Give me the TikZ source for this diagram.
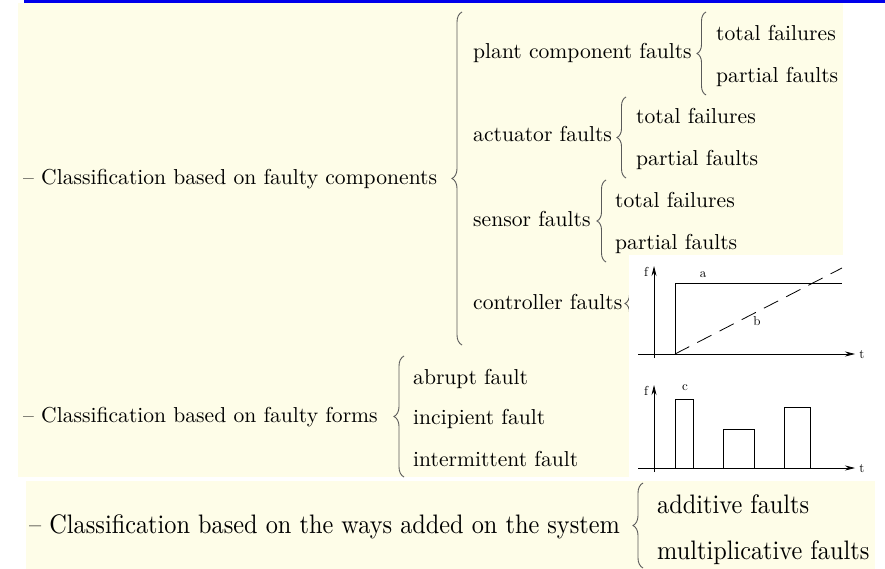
\documentclass[tikz,border=0pt]{standalone}
\usepackage{fontspec}
\setmainfont{lmroman10-regular.otf}
\usetikzlibrary{decorations.pathreplacing,arrows.meta}
\definecolor{panel}{RGB}{254,253,232}
\definecolor{topblue}{RGB}{0,0,235}
\definecolor{bracegray}{RGB}{90,90,90}
\begin{document}
\begin{tikzpicture}[x=1pt,y=-1pt,
  txt/.style={anchor=base west,inner sep=0pt,font=\fontsize{21.6}{24}\selectfont},
  txtb/.style={anchor=base west,inner sep=0pt,font=\fontsize{24.3}{27}\selectfont},
  brc/.style={draw=bracegray,line width=0.9pt,decorate,decoration={brace,amplitude=9pt}},
  plotline/.style={line width=0.8pt,draw=black},
  axis/.style={line width=0.8pt,draw=black,-{Stealth[length=10pt,width=5pt]}},
  plab/.style={inner sep=0pt,font=\fontsize{13}{14}\selectfont}
]
\useasboundingbox (0,0) rectangle (885,569);
\fill[white] (0,0) rectangle (885,569);
\fill[panel] (18,3) rectangle (843,477);
\fill[panel] (26,481) rectangle (875,569);
\draw[topblue,line width=3pt] (24,1.5) -- (885,1.5);

% faulty components
\node[txt] (comp) at (23,185) {-- Classification based on faulty components};
\draw[brc,decoration={amplitude=10pt}] (462,345) -- (462,12);
\node[txt] (plant) at (473,59) {plant component faults};
\draw[brc] (706,95) -- (706,12);
\node[txt] (tf1) at (716,41) {total failures};
\node[txt] (pf1) at (716,83) {partial faults};
\node[txt] (act) at (473,142) {actuator faults};
\draw[brc] (626,178) -- (626,97);
\node[txt] (tf2) at (636,124) {total failures};
\node[txt] (pf2) at (636,166) {partial faults};
\node[txt] (sen) at (473,226) {sensor faults};
\draw[brc] (606,262) -- (606,180);
\node[txt] (tf3) at (615,208) {total failures};
\node[txt] (pf3) at (615,249) {partial faults};
\node[txt] (ctrl) at (473,309) {controller faults};
\draw[brc] (634,343) -- (634,264);

% faulty forms
\node[txt] (forms) at (23,422) {-- Classification based on faulty forms};
\draw[brc,decoration={amplitude=10pt}] (404,477) -- (404,356);
\node[txt] (abrupt) at (413,384) {abrupt fault};
\node[txt] (incip) at (413,424) {incipient fault};
\node[txt] (interm) at (413,466) {intermittent fault};

% plots (image)
\fill[white] (629,255) rectangle (885,479);
\draw[axis] (638,354) -- (855,354);
\draw[axis] (654,358) -- (654,266);
\node[plab] (f1) at (646,272) {f};
\node[plab] (t1) at (862,355) {t};
\draw[plotline] (638,354) -- (675,354) -- (675,283) -- (842,283);
\node[plab] (la) at (703,275) {a};
\draw[plotline,dash pattern=on 16pt off 9pt] (675,354) -- (842,268);
\node[plab] (lb) at (757,321) {b};

\draw[axis] (638,468) -- (855,468);
\draw[axis] (654,472) -- (654,385);
\node[plab] (f2) at (646,391) {f};
\node[plab] (t2) at (862,469) {t};
\node[plab] (lc) at (685,388) {c};
\draw[plotline] (638,468) -- (675,468) -- (675,399) -- (693,399) -- (693,468);
\draw[plotline] (723,468) -- (723,429) -- (754,429) -- (754,468);
\draw[plotline] (784,468) -- (784,407) -- (810,407) -- (810,468);

% ways added
\node[txtb] (ways) at (29,533) {\scalebox{1}[1.1]{-- Classification based on the ways added on the system}};
\draw[brc,decoration={amplitude=10pt}] (643,568) -- (643,483);
\node[txtb] (add) at (657,513) {\scalebox{1}[1.1]{additive faults}};
\node[txtb] (mult) at (657,559) {\scalebox{1}[1.1]{multiplicative faults}};
\end{tikzpicture}
\end{document}
